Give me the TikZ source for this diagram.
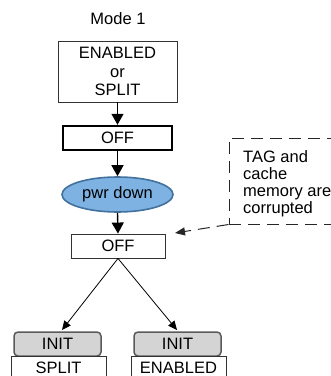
\documentclass[tikz,border=0pt]{standalone}
\usepackage{fontspec}
\setmainfont{Liberation Sans}
\usetikzlibrary{arrows.meta,shapes.geometric}
\definecolor{pwrfill}{HTML}{7DB2E3}
\definecolor{pwrline}{HTML}{41719C}
\definecolor{initfill}{HTML}{D4D4D4}
\definecolor{initline}{HTML}{5A5A5A}
\begin{document}
\begin{tikzpicture}[x=1pt,y=-1pt,
  lbl/.style={font=\fontsize{16.5}{18.8}\selectfont, inner sep=0pt},
  thinbox/.style={lbl, draw=black!80, line width=0.9pt, minimum height=24pt},
  thickbox/.style={lbl, draw=black, line width=2.4pt, minimum height=24pt},
  pwrnode/.style={lbl, ellipse, draw=pwrline, fill=pwrfill, line width=1.6pt, minimum width=111pt, minimum height=35pt},
  initbox/.style={lbl, draw=initline, fill=initfill, line width=1.5pt, rounded corners=4pt, minimum width=87pt, minimum height=24pt},
  vert/.style={line width=1.4pt, -{Triangle[length=11pt,width=12pt]}},
  diag/.style={line width=0.8pt, -{Triangle[length=9pt,width=8pt]}},
  dashline/.style={draw=black!85, line width=1pt, dash pattern=on 12pt off 7pt},
]
\useasboundingbox (0,0) rectangle (331,376);

\node[lbl] (mode) at (118,18.8) {Mode 1};
\node[thinbox, align=center, minimum width=119pt, minimum height=61pt] (start) at (117.5,71.5) {ENABLED\\or\\SPLIT};
\node[thickbox, minimum width=109pt, minimum height=24pt] (off1) at (117.5,138) {OFF};
\node[pwrnode] (pwr) at (117.5,194.5) {pwr down};
\node[thinbox, minimum width=94pt] (off2) at (118,246) {OFF};

\node[initbox] (init1) at (57.5,344) {INIT};
\node[thinbox, minimum width=95pt] (split) at (58.5,368) {SPLIT};
\node[initbox] (init2) at (177.5,344) {INIT};
\node[thinbox, minimum width=95pt] (enabled) at (178.5,368) {ENABLED};

\draw[vert] (start.south) -- (off1.north);
\draw[vert] (off1.south) -- (pwr.north);
\draw[vert] (pwr.south) -- (off2.north);

\coordinate (ltip) at (62,330);
\coordinate (rtip) at (177,330);
\draw[diag] (off2.south) -- (ltip);
\draw[diag] (off2.south) -- (rtip);

\node[dashline, draw, minimum width=107pt, minimum height=86pt, inner sep=0pt] (callout) at (282.5,181) {};
\node[lbl, align=left, anchor=north west, font=\fontsize{16.5}{16.8}\selectfont] (note) at (243,150.5) {TAG and\\cache\\memory are\\corrupted};
\coordinate (ctip) at (175,233);
\draw[dashline, -{Triangle[length=10pt,width=8pt]}] (callout.south west) -- (ctip);
\end{tikzpicture}
\end{document}
